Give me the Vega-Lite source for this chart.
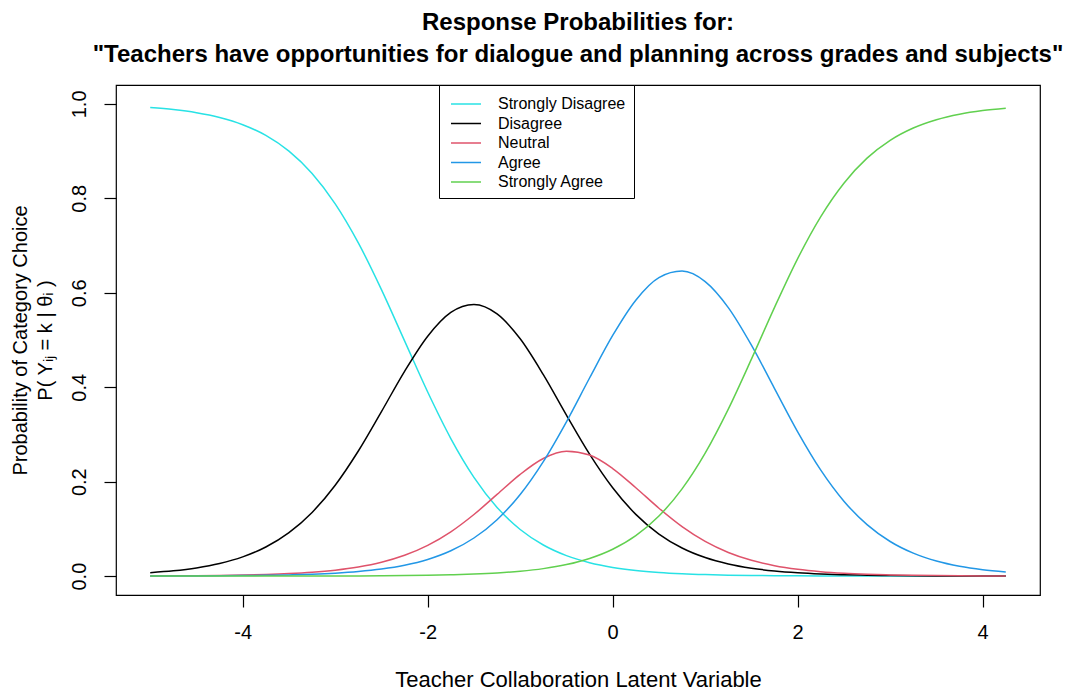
{
  "$schema": "https://vega.github.io/schema/vega-lite/v6.json",
  "width": 924,
  "height": 510,
  "autosize": {"type": "none"},
  "padding": {"left": 116, "top": 85, "right": 36, "bottom": 96},
  "background": "white",
  "title": {
    "text": ["Response Probabilities for:", "\"Teachers have opportunities for dialogue and planning across grades and subjects\""],
    "font": "Liberation Sans",
    "fontSize": 24,
    "fontWeight": "bold",
    "color": "black",
    "anchor": "middle",
    "baseline": "alphabetic",
    "lineHeight": 32,
    "offset": -1
  },
  "config": {
    "view": {"stroke": "black", "strokeWidth": 1.2},
    "font": "Liberation Sans"
  },
  "data": {
    "values": [
      {"theta": -5, "cat": "Strongly Disagree", "p": 0.99216},
      {"theta": -4.75, "cat": "Strongly Disagree", "p": 0.98787},
      {"theta": -4.5, "cat": "Strongly Disagree", "p": 0.98128},
      {"theta": -4.25, "cat": "Strongly Disagree", "p": 0.97122},
      {"theta": -4, "cat": "Strongly Disagree", "p": 0.95598},
      {"theta": -3.75, "cat": "Strongly Disagree", "p": 0.93322},
      {"theta": -3.5, "cat": "Strongly Disagree", "p": 0.89994},
      {"theta": -3.25, "cat": "Strongly Disagree", "p": 0.85268},
      {"theta": -3, "cat": "Strongly Disagree", "p": 0.78835},
      {"theta": -2.75, "cat": "Strongly Disagree", "p": 0.70563},
      {"theta": -2.5, "cat": "Strongly Disagree", "p": 0.6067},
      {"theta": -2.25, "cat": "Strongly Disagree", "p": 0.49819},
      {"theta": -2, "cat": "Strongly Disagree", "p": 0.38983},
      {"theta": -1.75, "cat": "Strongly Disagree", "p": 0.29136},
      {"theta": -1.5, "cat": "Strongly Disagree", "p": 0.20925},
      {"theta": -1.25, "cat": "Strongly Disagree", "p": 0.14551},
      {"theta": -1, "cat": "Strongly Disagree", "p": 0.09877},
      {"theta": -0.75, "cat": "Strongly Disagree", "p": 0.06588},
      {"theta": -0.5, "cat": "Strongly Disagree", "p": 0.04342},
      {"theta": -0.25, "cat": "Strongly Disagree", "p": 0.02838},
      {"theta": 0, "cat": "Strongly Disagree", "p": 0.01845},
      {"theta": 0.25, "cat": "Strongly Disagree", "p": 0.01195},
      {"theta": 0.5, "cat": "Strongly Disagree", "p": 0.00773},
      {"theta": 0.75, "cat": "Strongly Disagree", "p": 0.00499},
      {"theta": 1, "cat": "Strongly Disagree", "p": 0.00321},
      {"theta": 1.25, "cat": "Strongly Disagree", "p": 0.00207},
      {"theta": 1.5, "cat": "Strongly Disagree", "p": 0.00133},
      {"theta": 1.75, "cat": "Strongly Disagree", "p": 0.00086},
      {"theta": 2, "cat": "Strongly Disagree", "p": 0.00055},
      {"theta": 2.25, "cat": "Strongly Disagree", "p": 0.00036},
      {"theta": 2.5, "cat": "Strongly Disagree", "p": 0.00023},
      {"theta": 2.75, "cat": "Strongly Disagree", "p": 0.00015},
      {"theta": 3, "cat": "Strongly Disagree", "p": 0.0001},
      {"theta": 3.25, "cat": "Strongly Disagree", "p": 0.00006},
      {"theta": 3.5, "cat": "Strongly Disagree", "p": 0.00004},
      {"theta": 3.75, "cat": "Strongly Disagree", "p": 0.00003},
      {"theta": 4, "cat": "Strongly Disagree", "p": 0.00002},
      {"theta": 4.25, "cat": "Strongly Disagree", "p": 0.00001},
      {"theta": -5, "cat": "Disagree", "p": 0.00727},
      {"theta": -4.75, "cat": "Disagree", "p": 0.01124},
      {"theta": -4.5, "cat": "Disagree", "p": 0.01734},
      {"theta": -4.25, "cat": "Disagree", "p": 0.02663},
      {"theta": -4, "cat": "Disagree", "p": 0.04069},
      {"theta": -3.75, "cat": "Disagree", "p": 0.06161},
      {"theta": -3.5, "cat": "Disagree", "p": 0.09205},
      {"theta": -3.25, "cat": "Disagree", "p": 0.13492},
      {"theta": -3, "cat": "Disagree", "p": 0.19252},
      {"theta": -2.75, "cat": "Disagree", "p": 0.26495},
      {"theta": -2.5, "cat": "Disagree", "p": 0.34832},
      {"theta": -2.25, "cat": "Disagree", "p": 0.43362},
      {"theta": -2, "cat": "Disagree", "p": 0.50806},
      {"theta": -1.75, "cat": "Disagree", "p": 0.55847},
      {"theta": -1.5, "cat": "Disagree", "p": 0.57532},
      {"theta": -1.25, "cat": "Disagree", "p": 0.55542},
      {"theta": -1, "cat": "Disagree", "p": 0.50255},
      {"theta": -0.75, "cat": "Disagree", "p": 0.42668},
      {"theta": -0.5, "cat": "Disagree", "p": 0.34107},
      {"theta": -0.25, "cat": "Disagree", "p": 0.25837},
      {"theta": 0, "cat": "Disagree", "p": 0.1871},
      {"theta": 0.25, "cat": "Disagree", "p": 0.13078},
      {"theta": 0.5, "cat": "Disagree", "p": 0.08905},
      {"theta": 0.75, "cat": "Disagree", "p": 0.05952},
      {"theta": 1, "cat": "Disagree", "p": 0.03928},
      {"theta": 1.25, "cat": "Disagree", "p": 0.0257},
      {"theta": 1.5, "cat": "Disagree", "p": 0.01672},
      {"theta": 1.75, "cat": "Disagree", "p": 0.01083},
      {"theta": 2, "cat": "Disagree", "p": 0.007},
      {"theta": 2.25, "cat": "Disagree", "p": 0.00452},
      {"theta": 2.5, "cat": "Disagree", "p": 0.00291},
      {"theta": 2.75, "cat": "Disagree", "p": 0.00187},
      {"theta": 3, "cat": "Disagree", "p": 0.0012},
      {"theta": 3.25, "cat": "Disagree", "p": 0.00078},
      {"theta": 3.5, "cat": "Disagree", "p": 0.0005},
      {"theta": 3.75, "cat": "Disagree", "p": 0.00032},
      {"theta": 4, "cat": "Disagree", "p": 0.0002},
      {"theta": 4.25, "cat": "Disagree", "p": 0.00013},
      {"theta": -5, "cat": "Neutral", "p": 0.00038},
      {"theta": -4.75, "cat": "Neutral", "p": 0.00059},
      {"theta": -4.5, "cat": "Neutral", "p": 0.00092},
      {"theta": -4.25, "cat": "Neutral", "p": 0.00142},
      {"theta": -4, "cat": "Neutral", "p": 0.00221},
      {"theta": -3.75, "cat": "Neutral", "p": 0.00342},
      {"theta": -3.5, "cat": "Neutral", "p": 0.00529},
      {"theta": -3.25, "cat": "Neutral", "p": 0.00817},
      {"theta": -3, "cat": "Neutral", "p": 0.01258},
      {"theta": -2.75, "cat": "Neutral", "p": 0.01927},
      {"theta": -2.5, "cat": "Neutral", "p": 0.0293},
      {"theta": -2.25, "cat": "Neutral", "p": 0.04403},
      {"theta": -2, "cat": "Neutral", "p": 0.06507},
      {"theta": -1.75, "cat": "Neutral", "p": 0.09377},
      {"theta": -1.5, "cat": "Neutral", "p": 0.13045},
      {"theta": -1.25, "cat": "Neutral", "p": 0.17295},
      {"theta": -1, "cat": "Neutral", "p": 0.21551},
      {"theta": -0.75, "cat": "Neutral", "p": 0.24902},
      {"theta": -0.5, "cat": "Neutral", "p": 0.26426},
      {"theta": -0.25, "cat": "Neutral", "p": 0.25633},
      {"theta": 0, "cat": "Neutral", "p": 0.22785},
      {"theta": 0.25, "cat": "Neutral", "p": 0.18715},
      {"theta": 0.5, "cat": "Neutral", "p": 0.1438},
      {"theta": 0.75, "cat": "Neutral", "p": 0.10484},
      {"theta": 1, "cat": "Neutral", "p": 0.0735},
      {"theta": 1.25, "cat": "Neutral", "p": 0.05009},
      {"theta": 1.5, "cat": "Neutral", "p": 0.03349},
      {"theta": 1.75, "cat": "Neutral", "p": 0.0221},
      {"theta": 2, "cat": "Neutral", "p": 0.01446},
      {"theta": 2.25, "cat": "Neutral", "p": 0.0094},
      {"theta": 2.5, "cat": "Neutral", "p": 0.0061},
      {"theta": 2.75, "cat": "Neutral", "p": 0.00394},
      {"theta": 3, "cat": "Neutral", "p": 0.00255},
      {"theta": 3.25, "cat": "Neutral", "p": 0.00164},
      {"theta": 3.5, "cat": "Neutral", "p": 0.00106},
      {"theta": 3.75, "cat": "Neutral", "p": 0.00068},
      {"theta": 4, "cat": "Neutral", "p": 0.00044},
      {"theta": 4.25, "cat": "Neutral", "p": 0.00029},
      {"theta": -5, "cat": "Agree", "p": 0.00019},
      {"theta": -4.75, "cat": "Agree", "p": 0.00029},
      {"theta": -4.5, "cat": "Agree", "p": 0.00045},
      {"theta": -4.25, "cat": "Agree", "p": 0.00069},
      {"theta": -4, "cat": "Agree", "p": 0.00108},
      {"theta": -3.75, "cat": "Agree", "p": 0.00168},
      {"theta": -3.5, "cat": "Agree", "p": 0.0026},
      {"theta": -3.25, "cat": "Agree", "p": 0.00403},
      {"theta": -3, "cat": "Agree", "p": 0.00625},
      {"theta": -2.75, "cat": "Agree", "p": 0.00968},
      {"theta": -2.5, "cat": "Agree", "p": 0.01495},
      {"theta": -2.25, "cat": "Agree", "p": 0.02302},
      {"theta": -2, "cat": "Agree", "p": 0.03527},
      {"theta": -1.75, "cat": "Agree", "p": 0.05365},
      {"theta": -1.5, "cat": "Agree", "p": 0.08071},
      {"theta": -1.25, "cat": "Agree", "p": 0.1195},
      {"theta": -1, "cat": "Agree", "p": 0.17292},
      {"theta": -0.75, "cat": "Agree", "p": 0.24258},
      {"theta": -0.5, "cat": "Agree", "p": 0.32685},
      {"theta": -0.25, "cat": "Agree", "p": 0.41951},
      {"theta": 0, "cat": "Agree", "p": 0.50965},
      {"theta": 0.25, "cat": "Agree", "p": 0.58434},
      {"theta": 0.5, "cat": "Agree", "p": 0.63217},
      {"theta": 0.75, "cat": "Agree", "p": 0.64594},
      {"theta": 1, "cat": "Agree", "p": 0.62363},
      {"theta": 1.25, "cat": "Agree", "p": 0.56854},
      {"theta": 1.5, "cat": "Agree", "p": 0.489},
      {"theta": 1.75, "cat": "Agree", "p": 0.3971},
      {"theta": 2, "cat": "Agree", "p": 0.30559},
      {"theta": 2.25, "cat": "Agree", "p": 0.22441},
      {"theta": 2.5, "cat": "Agree", "p": 0.15867},
      {"theta": 2.75, "cat": "Agree", "p": 0.10899},
      {"theta": 3, "cat": "Agree", "p": 0.07328},
      {"theta": 3.25, "cat": "Agree", "p": 0.04856},
      {"theta": 3.5, "cat": "Agree", "p": 0.03185},
      {"theta": 3.75, "cat": "Agree", "p": 0.02076},
      {"theta": 4, "cat": "Agree", "p": 0.01347},
      {"theta": 4.25, "cat": "Agree", "p": 0.00871},
      {"theta": -5, "cat": "Strongly Agree", "p": 0.00001},
      {"theta": -4.75, "cat": "Strongly Agree", "p": 0.00001},
      {"theta": -4.5, "cat": "Strongly Agree", "p": 0.00002},
      {"theta": -4.25, "cat": "Strongly Agree", "p": 0.00003},
      {"theta": -4, "cat": "Strongly Agree", "p": 0.00005},
      {"theta": -3.75, "cat": "Strongly Agree", "p": 0.00008},
      {"theta": -3.5, "cat": "Strongly Agree", "p": 0.00013},
      {"theta": -3.25, "cat": "Strongly Agree", "p": 0.0002},
      {"theta": -3, "cat": "Strongly Agree", "p": 0.00031},
      {"theta": -2.75, "cat": "Strongly Agree", "p": 0.00047},
      {"theta": -2.5, "cat": "Strongly Agree", "p": 0.00074},
      {"theta": -2.25, "cat": "Strongly Agree", "p": 0.00114},
      {"theta": -2, "cat": "Strongly Agree", "p": 0.00177},
      {"theta": -1.75, "cat": "Strongly Agree", "p": 0.00275},
      {"theta": -1.5, "cat": "Strongly Agree", "p": 0.00427},
      {"theta": -1.25, "cat": "Strongly Agree", "p": 0.00662},
      {"theta": -1, "cat": "Strongly Agree", "p": 0.01025},
      {"theta": -0.75, "cat": "Strongly Agree", "p": 0.01584},
      {"theta": -0.5, "cat": "Strongly Agree", "p": 0.0244},
      {"theta": -0.25, "cat": "Strongly Agree", "p": 0.03741},
      {"theta": 0, "cat": "Strongly Agree", "p": 0.05695},
      {"theta": 0.25, "cat": "Strongly Agree", "p": 0.08578},
      {"theta": 0.5, "cat": "Strongly Agree", "p": 0.12725},
      {"theta": 0.75, "cat": "Strongly Agree", "p": 0.18471},
      {"theta": 1, "cat": "Strongly Agree", "p": 0.26038},
      {"theta": 1.25, "cat": "Strongly Agree", "p": 0.3536},
      {"theta": 1.5, "cat": "Strongly Agree", "p": 0.45946},
      {"theta": 1.75, "cat": "Strongly Agree", "p": 0.56911},
      {"theta": 2, "cat": "Strongly Agree", "p": 0.6724},
      {"theta": 2.25, "cat": "Strongly Agree", "p": 0.76131},
      {"theta": 2.5, "cat": "Strongly Agree", "p": 0.83209},
      {"theta": 2.75, "cat": "Strongly Agree", "p": 0.88505},
      {"theta": 3, "cat": "Strongly Agree", "p": 0.92287},
      {"theta": 3.25, "cat": "Strongly Agree", "p": 0.94896},
      {"theta": 3.5, "cat": "Strongly Agree", "p": 0.96655},
      {"theta": 3.75, "cat": "Strongly Agree", "p": 0.97821},
      {"theta": 4, "cat": "Strongly Agree", "p": 0.98587},
      {"theta": 4.25, "cat": "Strongly Agree", "p": 0.99086}
    ]
  },
  "mark": {"type": "line", "strokeWidth": 1.5, "interpolate": "monotone", "clip": true},
  "encoding": {
    "x": {
      "field": "theta",
      "type": "quantitative",
      "scale": {"domain": [-5.37, 4.62], "nice": false, "zero": false},
      "axis": {
        "values": [-4, -2, 0, 2, 4],
        "labelExpr": "'' + datum.value",
        "domain": false,
        "grid": false,
        "tickSize": 12,
        "tickColor": "black",
        "tickWidth": 1.2,
        "labelFont": "Liberation Sans",
        "labelFontSize": 20,
        "labelColor": "black",
        "labelPadding": 15,
        "title": "Teacher Collaboration Latent Variable",
        "titleFont": "Liberation Sans",
        "titleFontSize": 22,
        "titleFontWeight": "normal",
        "titleColor": "black",
        "titleY": 84,
        "titleBaseline": "middle"
      }
    },
    "y": {
      "field": "p",
      "type": "quantitative",
      "scale": {"domain": [-0.04, 1.04], "nice": false, "zero": false},
      "axis": {
        "values": [0, 0.2, 0.4, 0.6, 0.8, 1],
        "format": ".1f",
        "domain": false,
        "grid": false,
        "tickSize": 12,
        "tickColor": "black",
        "tickWidth": 1.2,
        "labelFont": "Liberation Sans",
        "labelFontSize": 20,
        "labelColor": "black",
        "labelAngle": -90,
        "labelAlign": "center",
        "labelBaseline": "bottom",
        "labelPadding": 15,
        "title": ["Probability of Category Choice", "P( Yᵢⱼ = k | θᵢ )"],
        "titleFont": "Liberation Sans",
        "titleFontSize": 20,
        "titleFontWeight": "normal",
        "titleColor": "black",
        "titleLineHeight": 25,
        "titleAngle": -90,
        "titleAlign": "center",
        "titleBaseline": "top",
        "titleX": -106,
        "titleY": 255
      }
    },
    "color": {
      "field": "cat",
      "type": "nominal",
      "sort": null,
      "scale": {
        "domain": ["Strongly Disagree", "Disagree", "Neutral", "Agree", "Strongly Agree"],
        "range": ["#28E2E5", "#000000", "#DF536B", "#2297E6", "#61D04F"]
      },
      "legend": {
        "title": null,
        "orient": "none",
        "legendX": 323,
        "legendY": 0,
        "symbolType": "M-1.5,0H1.5",
        "symbolSize": 400,
        "symbolStrokeWidth": 1.5,
        "symbolOffset": 8,
        "labelFont": "Liberation Sans",
        "labelFontSize": 16,
        "labelColor": "black",
        "labelOffset": 21,
        "rowPadding": 0.5,
        "padding": 8,
        "strokeColor": "black",
        "fillColor": "white",
        "cornerRadius": 0
      }
    }
  }
}
